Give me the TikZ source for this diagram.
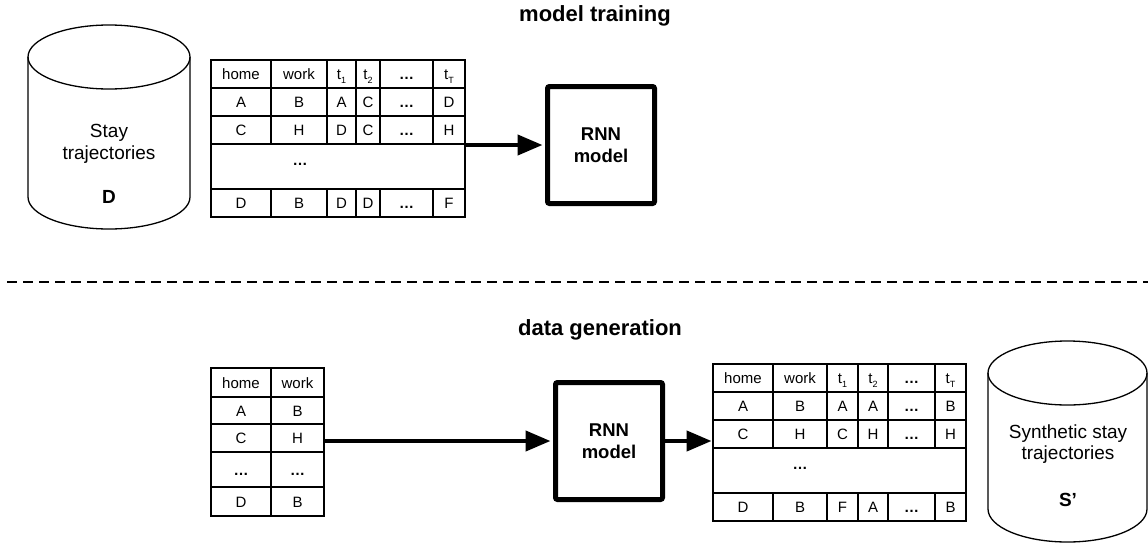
\documentclass[tikz,border=0pt]{standalone}
\usepackage{fontspec}
\setmainfont{Liberation Sans}
\usetikzlibrary{arrows.meta}

% one table cell: name, x1, y1, x2, y2, text
\newcommand\tabcell[6]{%
  \node[cellbox, minimum width={(#4)-(#2)}, minimum height={(#5)-(#3)}]
    (#1) at ({((#2)+(#4))/2},{((#3)+(#5))/2}) {#6};}
\newcommand\bdots{\textbf{…}}
% time-step header with a small, lowered index
\newcommand\tstep[1]{t\raisebox{-0.45ex}{\fontsize{9}{10}\selectfont #1}}

\tikzset{
  cellbox/.style={draw, line width=1.5pt, inner sep=0pt,
    font=\fontsize{15}{18}\selectfont, text height=11pt, text depth=0pt},
  rnn/.style={draw, line width=5pt, rounded corners=2pt,
    minimum width=107pt, minimum height=117pt, align=center,
    font=\fontsize{18.5}{22}\selectfont\bfseries},
  arr/.style={line width=4.2pt, -{Triangle[length=25pt,width=20pt]}},
  drum/.style={line width=1.3pt},
  drumtext/.style={align=center, font=\fontsize{19}{21.5}\selectfont},
  drumlabel/.style={font=\fontsize{19}{21.5}\selectfont\bfseries},
  heading/.style={anchor=base, font=\fontsize{22}{26}\selectfont\bfseries},
  separator/.style={line width=2.5pt, dash pattern=on 10pt off 6pt},
}

\begin{document}
\begin{tikzpicture}[x=1pt, y=-1pt]
\useasboundingbox (0,0) rectangle (1148,544);

% ---------- headings and separator ----------
\node[heading] (htrain) at (595,21) {model training};
\node[heading] (hgen) at (600,335) {data generation};
\draw[separator] (7,282) -- (1148,282);

% ---------- stored trajectories D ----------
\draw[drum] (109,57) ellipse[x radius=81pt, y radius=32pt];
\draw[drum] (28,57) -- (28,197)
  arc[start angle=180, end angle=360, x radius=81pt, y radius=32pt] -- (190,57);
\node[drumtext] (dtext) at (109,144) {Stay\\trajectories};
\node[drumlabel] (dlabel) at (109,197) {D};

% ---------- training table ----------
\tabcell{T11}{211}{60}{271}{88}{home}
\tabcell{T12}{271}{60}{327}{88}{work}
\tabcell{T13}{327}{60}{356}{88}{\tstep{1}}
\tabcell{T14}{356}{60}{380}{88}{\tstep{2}}
\tabcell{T15}{380}{60}{433}{88}{\bdots}
\tabcell{T16}{433}{60}{465}{88}{\tstep{T}}
\tabcell{T21}{211}{88}{271}{116}{A}
\tabcell{T22}{271}{88}{327}{116}{B}
\tabcell{T23}{327}{88}{356}{116}{A}
\tabcell{T24}{356}{88}{380}{116}{C}
\tabcell{T25}{380}{88}{433}{116}{\bdots}
\tabcell{T26}{433}{88}{465}{116}{D}
\tabcell{T31}{211}{116}{271}{144}{C}
\tabcell{T32}{271}{116}{327}{144}{H}
\tabcell{T33}{327}{116}{356}{144}{D}
\tabcell{T34}{356}{116}{380}{144}{C}
\tabcell{T35}{380}{116}{433}{144}{\bdots}
\tabcell{T36}{433}{116}{465}{144}{H}
\tabcell{Tgap}{211}{144}{465}{189}{}
\node[font=\fontsize{15}{18}\selectfont] (Tgapdots) at (300,164) {\bdots};
\tabcell{T51}{211}{189}{271}{217}{D}
\tabcell{T52}{271}{189}{327}{217}{B}
\tabcell{T53}{327}{189}{356}{217}{D}
\tabcell{T54}{356}{189}{380}{217}{D}
\tabcell{T55}{380}{189}{433}{217}{\bdots}
\tabcell{T56}{433}{189}{465}{217}{F}

% ---------- RNN model (training) ----------
\node[rnn] (rnn1) at (601,145) {RNN\\model};
\draw[arr, shorten >=2.5pt] (rnn1.west -| Tgap.east) -- (rnn1.west);

% ---------- seed table ----------
\tabcell{S11}{211}{368}{271}{397}{home}
\tabcell{S12}{271}{368}{324}{397}{work}
\tabcell{S21}{211}{397}{271}{424}{A}
\tabcell{S22}{271}{397}{324}{424}{B}
\tabcell{S31}{211}{424}{271}{452}{C}
\tabcell{S32}{271}{424}{324}{452}{H}
\tabcell{S41}{211}{452}{271}{487}{\bdots}
\tabcell{S42}{271}{452}{324}{487}{\bdots}
\tabcell{S51}{211}{487}{271}{516}{D}
\tabcell{S52}{271}{487}{324}{516}{B}

% ---------- RNN model (generation) ----------
\node[rnn] (rnn2) at (609,441) {RNN\\model};
\draw[arr, shorten >=2.5pt] (rnn2.west -| S32.east) -- (rnn2.west);

% ---------- generated table ----------
\tabcell{G11}{713}{364}{773}{392}{home}
\tabcell{G12}{773}{364}{827}{392}{work}
\tabcell{G13}{827}{364}{858}{392}{\tstep{1}}
\tabcell{G14}{858}{364}{888}{392}{\tstep{2}}
\tabcell{G15}{888}{364}{935}{392}{\bdots}
\tabcell{G16}{935}{364}{966}{392}{\tstep{T}}
\tabcell{G21}{713}{392}{773}{420}{A}
\tabcell{G22}{773}{392}{827}{420}{B}
\tabcell{G23}{827}{392}{858}{420}{A}
\tabcell{G24}{858}{392}{888}{420}{A}
\tabcell{G25}{888}{392}{935}{420}{\bdots}
\tabcell{G26}{935}{392}{966}{420}{B}
\tabcell{G31}{713}{420}{773}{448}{C}
\tabcell{G32}{773}{420}{827}{448}{H}
\tabcell{G33}{827}{420}{858}{448}{C}
\tabcell{G34}{858}{420}{888}{448}{H}
\tabcell{G35}{888}{420}{935}{448}{\bdots}
\tabcell{G36}{935}{420}{966}{448}{H}
\tabcell{Ggap}{713}{448}{966}{493}{}
\node[font=\fontsize{15}{18}\selectfont] (Ggapdots) at (800,468) {\bdots};
\tabcell{G51}{713}{493}{773}{521}{D}
\tabcell{G52}{773}{493}{827}{521}{B}
\tabcell{G53}{827}{493}{858}{521}{F}
\tabcell{G54}{858}{493}{888}{521}{A}
\tabcell{G55}{888}{493}{935}{521}{\bdots}
\tabcell{G56}{935}{493}{966}{521}{B}

\draw[arr, shorten >=0.7pt] (rnn2.east) -- (rnn2.east -| Ggap.west);

% ---------- synthetic trajectories S' ----------
\draw[drum] (1067.5,373) ellipse[x radius=79.5pt, y radius=32pt];
\draw[drum] (988,373) -- (988,509)
  arc[start angle=180, end angle=360, x radius=79.5pt, y radius=33pt] -- (1147,373);
\node[drumtext] (stext) at (1068,444) {Synthetic stay\\trajectories};
\node[drumlabel] (slabel) at (1068,500) {S’};
\end{tikzpicture}
\end{document}
